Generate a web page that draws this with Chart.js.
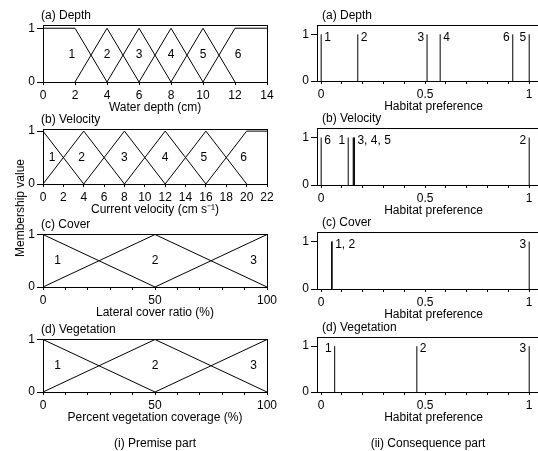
<!DOCTYPE html>
<html>
<head>
<meta charset="utf-8">
<script src="https://cdn.jsdelivr.net/npm/chart.js@4.4.1/dist/chart.umd.min.js"></script>
<style>
  html, body { margin: 0; padding: 0; background: #fff; overflow: hidden; }
  #fig { position: relative; width: 538px; height: 451px; overflow: hidden; background: #fff;
         font-family: 'Liberation Sans', Arial, Helvetica, sans-serif; color: #000; }
  #fig canvas { position: absolute; left: 0; top: 0; }
  .cap { position: absolute; font-size: 12px; white-space: nowrap; transform: translate(-50%, -50%); }
</style>
</head>
<body>
<div id="fig">
  <canvas id="pa" width="560" height="451"></canvas>
  <canvas id="pb" width="560" height="451"></canvas>
  <canvas id="pc" width="560" height="451"></canvas>
  <canvas id="pd" width="560" height="451"></canvas>
  <canvas id="ca" width="560" height="451"></canvas>
  <canvas id="cb" width="560" height="451"></canvas>
  <canvas id="cc" width="560" height="451"></canvas>
  <canvas id="cd" width="560" height="451"></canvas>
  <div class="cap" style="left:20px;top:208px;transform:translate(-50%,-50%) rotate(-90deg);">Membership value</div>
  <div class="cap" style="left:155px;top:443px;">(i) Premise part</div>
  <div class="cap" style="left:428px;top:443px;">(ii) Consequence part</div>
</div>
<script>
// ---------- Premise part: membership functions, breakpoints as [x, membership] ----------
const depthTicks = [0, 2, 4, 6, 8, 10, 12, 14];
const depthMF = [
  [[0, 1], [2, 1], [4, 0]],
  [[2, 0], [4, 1], [6, 0]],
  [[4, 0], [6, 1], [8, 0]],
  [[6, 0], [8, 1], [10, 0]],
  [[8, 0], [10, 1], [12, 0]],
  [[10, 0], [12, 1], [14, 1]]
];
const depthClassX = [1.8, 4, 6, 8, 10, 12.2];

const velocityTicks = [0, 2, 4, 6, 8, 10, 12, 14, 16, 18, 20, 22];
const velocityMF = [
  [[0, 1], [4, 0]],
  [[0, 0], [4, 1], [8, 0]],
  [[4, 0], [8, 1], [12, 0]],
  [[8, 0], [12, 1], [16, 0]],
  [[12, 0], [16, 1], [20, 0]],
  [[16, 0], [20, 1], [22, 1]]
];
const velocityClassX = [0.9, 3.8, 8, 12, 15.8, 19.7];

const percentTicks = [0, 10, 20, 30, 40, 50, 60, 70, 80, 90, 100];
const percentTickLabels = ['0', '', '', '', '', '50', '', '', '', '', '100'];
const coverMF = [
  [[0, 1], [50, 0]],
  [[0, 0], [50, 1], [100, 0]],
  [[50, 0], [100, 1]]
];
const coverClassX = [6.5, 50, 94];

const vegetationMF = [
  [[0, 1], [50, 0]],
  [[0, 0], [50, 1], [100, 0]],
  [[50, 0], [100, 1]]
];
const vegetationClassX = [6.5, 50, 94];

// ---------- Consequence part: habitat preference of each class ----------
const preferenceTicks = [0, 0.1, 0.2, 0.3, 0.4, 0.5, 0.6, 0.7, 0.8, 0.9, 1];
const preferenceTickLabels = ['0', '', '', '', '', '0.5', '', '', '', '', '1'];

const depthPref = [0.0, 0.176, 0.509, 0.572, 1.0, 0.921];
const depthGroups = [[0], [1], [2], [3], [4], [5]];
const depthGroupSide = ['right', 'right', 'left', 'right', 'left', 'left'];

const velocityPref = [0.13, 1.0, 0.154, 0.157, 0.16, 0.0];
const velocityGroups = [[5], [0], [2, 3, 4], [1]];
const velocityGroupSide = ['right', 'left', 'right', 'left'];

const coverPref = [0.05, 0.053, 1.0];
const coverGroups = [[0, 1], [2]];
const coverGroupSide = ['right', 'left'];

const vegetationPref = [0.065, 0.46, 1.0];
const vegetationGroups = [[0], [1], [2]];
const vegetationGroupSide = ['left', 'right', 'left'];

// ---------- drawing ----------
const FONT = { family: "'Liberation Sans', Arial, Helvetica, sans-serif", size: 12 };
const CANVAS_W = 560, CANVAS_H = 451;
const Y_AXIS_W = 30, X_AXIS_H = 33;

const panelPlugin = {
  id: 'panel',
  afterDraw(chart, args, opts) {
    const { ctx, chartArea: a, scales } = chart;
    ctx.save();
    // frame round the plot
    ctx.strokeStyle = '#000';
    ctx.lineWidth = 1;
    ctx.strokeRect(Math.round(a.left) + 0.5, Math.round(a.top) + 0.5,
                   Math.round(a.right - a.left), Math.round(a.bottom - a.top));
    ctx.fillStyle = '#000';
    ctx.font = `${FONT.size}px ${FONT.family}`;
    // panel heading
    ctx.textAlign = 'left';
    ctx.textBaseline = 'middle';
    ctx.fillText(opts.title, a.left + opts.titleDx, a.top - 9);
    // class labels
    (opts.labels || []).forEach(l => {
      const px = scales.x.getPixelForValue(l.x);
      const py = scales.y.getPixelForValue(l.y);
      if (l.side === 'right') { ctx.textAlign = 'left'; ctx.fillText(l.text, px + 3, py + 3); }
      else if (l.side === 'left') { ctx.textAlign = 'right'; ctx.fillText(l.text, px - 3, py + 3); }
      else { ctx.textAlign = 'center'; ctx.fillText(l.text, px, py); }
    });
    ctx.restore();
  }
};

function lineSet(points) {
  return {
    data: points.map(([x, y]) => ({ x, y })),
    showLine: true, borderColor: '#000', borderWidth: 1,
    pointRadius: 0, tension: 0, fill: false
  };
}

function makePanel(id, area, xCfg, yMax, datasets, title, titleDx, labels) {
  const tickValues = xCfg.ticks;
  new Chart(document.getElementById(id), {
    type: 'scatter',
    data: { datasets },
    plugins: [panelPlugin],
    options: {
      responsive: false, animation: false, devicePixelRatio: 1,
      events: [],
      layout: { padding: {
        left: area.l - Y_AXIS_W, right: CANVAS_W - area.r,
        top: area.t, bottom: CANVAS_H - area.b - X_AXIS_H } },
      plugins: {
        legend: { display: false }, tooltip: { enabled: false },
        panel: { title, titleDx, labels }
      },
      scales: {
        x: {
          type: 'linear', min: xCfg.min, max: xCfg.max,
          afterBuildTicks: s => { s.ticks = tickValues.map(v => ({ value: v })); },
          afterFit: s => { s.height = X_AXIS_H; },
          ticks: {
            autoSkip: false, maxRotation: 0, color: '#000', font: FONT, padding: 3,
            callback: (v, i) => xCfg.labels[i]
          },
          grid: { drawOnChartArea: false, drawTicks: true, tickLength: 3, color: '#000' },
          border: { color: '#000', width: 1 },
          title: { display: true, text: xCfg.title, color: '#000', font: FONT, padding: 0 }
        },
        y: {
          type: 'linear', min: 0, max: yMax,
          afterBuildTicks: s => { s.ticks = [{ value: 0 }, { value: 1 }]; },
          afterFit: s => { s.width = Y_AXIS_W; },
          ticks: { color: '#000', font: FONT, padding: 2, callback: v => String(v) },
          grid: { drawOnChartArea: false, drawTicks: true, tickLength: 6, color: '#000' },
          border: { color: '#000', width: 1 }
        }
      }
    }
  });
}

function premise(id, area, mf, classX, ticks, tickLabels, max, yMax, xTitle, title) {
  const labels = classX.map((x, i) => ({ x, y: 0.5, text: String(i + 1), side: 'center' }));
  makePanel(id, area, { min: 0, max, ticks, labels: tickLabels, title: xTitle },
            yMax, mf.map(lineSet), title, -2, labels);
}

function consequence(id, area, pref, groups, sides, title) {
  const datasets = pref.map(p => lineSet([[p, 0], [p, 1]]));
  const labels = groups.map((g, k) => {
    const vals = g.map(i => pref[i]);
    const x = sides[k] === 'right' ? Math.max(...vals) : Math.min(...vals);
    return { x, y: 1, text: g.map(i => i + 1).join(', '), side: sides[k] };
  });
  makePanel(id, area, { min: -0.02, max: 1.1, ticks: preferenceTicks,
                        labels: preferenceTickLabels, title: 'Habitat preference' },
            1.2, datasets, title, 5, labels);
}

const L = 43, R = 267, CL = 317, CR = 550;
premise('pa', { l: L, r: R, t: 25, b: 82 }, depthMF, depthClassX, depthTicks,
        depthTicks.map(String), 14, 1.06, 'Water depth (cm)', '(a) Depth');
premise('pb', { l: L, r: R, t: 129, b: 184 }, velocityMF, velocityClassX, velocityTicks,
        velocityTicks.map(String), 22, 1.04, 'Current velocity (cm s\u207B\u00B9)', '(b) Velocity');
premise('pc', { l: L, r: R, t: 234, b: 287 }, coverMF, coverClassX, percentTicks,
        percentTickLabels, 100, 1.01, 'Lateral cover ratio (%)', '(c) Cover');
premise('pd', { l: L, r: R, t: 339, b: 392 }, vegetationMF, vegetationClassX, percentTicks,
        percentTickLabels, 100, 1.01, 'Percent vegetation coverage (%)', '(d) Vegetation');

consequence('ca', { l: CL, r: CR, t: 25, b: 81 }, depthPref, depthGroups, depthGroupSide, '(a) Depth');
consequence('cb', { l: CL, r: CR, t: 128, b: 185 }, velocityPref, velocityGroups, velocityGroupSide, '(b) Velocity');
consequence('cc', { l: CL, r: CR, t: 232, b: 289 }, coverPref, coverGroups, coverGroupSide, '(c) Cover');
consequence('cd', { l: CL, r: CR, t: 337, b: 392 }, vegetationPref, vegetationGroups, vegetationGroupSide, '(d) Vegetation');
</script>
</body>
</html>
